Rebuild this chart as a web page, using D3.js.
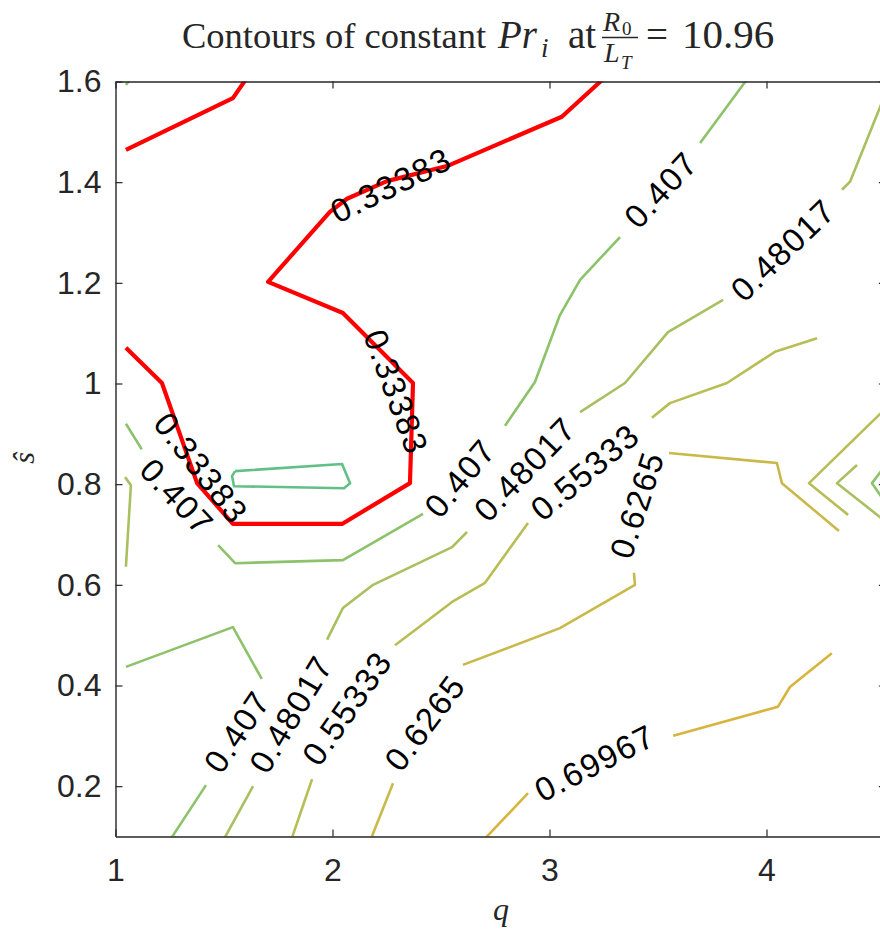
<!DOCTYPE html>
<html>
<head>
<meta charset="utf-8">
<script src="https://cdn.jsdelivr.net/npm/d3@7"></script>
<style>
  body { margin: 0; background: #fff; }
  svg { display: block; }
</style>
</head>
<body>
<svg id="chart" width="880" height="933"></svg>
<script>
// Contour levels of Pr_i and the colour each one is stroked with
const levels      = [0.26067, 0.33383, 0.407, 0.48017, 0.55333, 0.6265, 0.69967];
const levelColors = ["#62bf86", "#ff0000", "#8cc26a", "#a8c05f", "#b8bd55", "#c9b94a", "#d8b43e"];

// Contour pieces per level as [q, s-hat] vertices (broken where the inline labels sit)
const pr026 = [
  [[1.551,0.826],[2.044,0.840],[2.081,0.802],[2.053,0.792],[1.546,0.796],[1.537,0.816],[1.551,0.826]]
];
const pr033 = [
  [[1.048,1.464],[1.541,1.567],[1.610,1.610]],
  [[1.048,1.071],[1.214,1.001],[1.376,0.802],[1.541,0.721],[2.044,0.721],[2.357,0.802],
   [2.371,1.001],[2.048,1.140],[1.703,1.202],[1.988,1.341],[2.067,1.367],[2.251,1.402],
   [2.528,1.432],[3.057,1.530],[3.260,1.610]]
];
const pr041 = [
  [[1.048,1.593],[1.070,1.606]],
  [[1.048,0.920],[1.121,0.869]],
  [[1.473,0.679],[1.551,0.643],[2.048,0.649],[2.417,0.741]],
  [[2.795,0.916],[2.933,1.003],[3.048,1.136],[3.141,1.206],[3.325,1.291]],
  [[3.694,1.478],[3.920,1.610]],
  [[1.048,0.437],[1.541,0.516],[1.674,0.413]],
  [[1.417,0.202],[1.233,0.081]],
  [[4.560,0.844],[4.486,0.802],[4.560,0.756]]
];
const pr048 = [
  [[1.044,0.814],[1.071,0.798],[1.048,0.636]],
  [[1.482,0.081],[1.634,0.200]],
  [[1.975,0.491],[2.048,0.554],[2.187,0.600],[2.551,0.675],[2.620,0.705]],
  [[3.141,0.943],[3.348,1.001],[3.546,1.102],[3.800,1.166]],
  [[4.348,1.385],[4.385,1.401],[4.523,1.549],[4.560,1.590]],
  [[4.417,0.838],[4.325,0.802],[4.560,0.722]]
];
const pr055 = [
  [[1.800,0.081],[1.906,0.214]],
  [[2.288,0.480],[2.551,0.566],[2.703,0.604],[2.901,0.723]],
  [[3.472,0.932],[3.555,0.961],[3.818,1.001],[4.039,1.063],[4.233,1.090]],
  [[4.560,0.955],[4.196,0.802],[4.376,0.739]]
];
const pr063 = [
  [[2.164,0.081],[2.279,0.206]],
  [[2.601,0.441],[3.048,0.514],[3.394,0.600],[3.389,0.624]],
  [[3.551,0.862],[4.048,0.842],[4.071,0.802],[4.334,0.707]]
];
const pr070 = [
  [[2.670,0.081],[2.901,0.186]],
  [[3.570,0.300],[4.053,0.358],[4.108,0.397],[4.301,0.464]]
];
const contourPieces = [pr026, pr033, pr041, pr048, pr055, pr063, pr070];

// Inline labels: [level, q, s-hat, rotation in degrees]
const contourLabels = [
  [0.33383, 2.270, 1.394, -26],
  [0.33383, 2.293, 0.983,  70],
  [0.33383, 1.394, 0.832,  52],
  [0.407,   1.283, 0.775,  47],
  [0.407,   2.588, 0.812, -50],
  [0.48017, 2.887, 0.830, -46],
  [0.55333, 3.164, 0.824, -40],
  [0.6265,  3.403, 0.759, -72],
  [0.407,   3.514, 1.385, -47],
  [0.48017, 4.076, 1.265, -44],
  [0.407,   1.560, 0.308, -56],
  [0.48017, 1.809, 0.343, -59],
  [0.55333, 2.067, 0.355, -55],
  [0.6265,  2.426, 0.326, -53],
  [0.69967, 3.209, 0.246, -27]
];

// Axis ticks
const xTicks = [1, 2, 3, 4];
const xTickLabels = ["1", "2", "3", "4"];
const yTicks = [0.2, 0.4, 0.6, 0.8, 1.0, 1.2, 1.4, 1.6];
const yTickLabels = ["0.2", "0.4", "0.6", "0.8", "1", "1.2", "1.4", "1.6"];

const svg = d3.select("#chart");
const axisColor = "#262626";
const sansFont = "'Liberation Sans', Arial, Helvetica, sans-serif";
const serifFont = "'Liberation Serif', 'Times New Roman', serif";

const x = d3.scaleLinear().domain([1, 4.55]).range([115.5, 885.85]);
const y = d3.scaleLinear().domain([0.1, 1.6]).range([836.5, 81.5]);

svg.append("defs").append("clipPath").attr("id", "plotClip")
  .append("rect")
  .attr("x", x(1)).attr("y", y(1.6))
  .attr("width", x(4.55) - x(1)).attr("height", y(0.1) - y(1.6));

// Contour lines
const line = d3.line().x(d => x(d[0])).y(d => y(d[1]));
const plot = svg.append("g").attr("clip-path", "url(#plotClip)");
levels.forEach((lv, i) => {
  plot.append("g")
    .selectAll("path")
    .data(contourPieces[i])
    .join("path")
    .attr("d", line)
    .attr("fill", "none")
    .attr("stroke", levelColors[i])
    .attr("stroke-width", lv === 0.33383 ? 4.2 : 2.6)
    .attr("stroke-linejoin", "round");
});

// Inline contour labels
plot.append("g")
  .selectAll("text")
  .data(contourLabels)
  .join("text")
  .attr("transform", d => `translate(${x(d[1])},${y(d[2])}) rotate(${d[3]})`)
  .attr("text-anchor", "middle")
  .attr("dominant-baseline", "central")
  .attr("font-family", sansFont)
  .attr("font-size", 33)
  .attr("letter-spacing", 1.5)
  .attr("fill", "#000")
  .text(d => String(d[0]));

// Axes (box with inward ticks)
function styleAxis(g) {
  g.select(".domain").attr("stroke", axisColor).attr("stroke-width", 1.4);
  g.selectAll(".tick line").attr("stroke", axisColor).attr("stroke-width", 1.2);
  g.selectAll(".tick text")
    .attr("fill", axisColor)
    .attr("font-family", sansFont)
    .attr("font-size", 32);
}

svg.append("g")
  .attr("transform", `translate(0,${y(0.1)})`)
  .call(d3.axisBottom(x).tickValues(xTicks).tickSize(-7).tickSizeOuter(0).tickPadding(22)
    .tickFormat((d, i) => xTickLabels[i]))
  .call(styleAxis);

svg.append("g")
  .attr("transform", `translate(${x(1)},0)`)
  .call(d3.axisLeft(y).tickValues(yTicks).tickSize(-7).tickSizeOuter(0).tickPadding(14)
    .tickFormat((d, i) => yTickLabels[i]))
  .call(styleAxis);

svg.append("g")
  .attr("transform", `translate(0,${y(1.6)})`)
  .call(d3.axisTop(x).tickValues(xTicks).tickSize(-7).tickSizeOuter(0).tickFormat(""))
  .call(styleAxis);

svg.append("g")
  .attr("transform", `translate(${x(4.55)},0)`)
  .call(d3.axisRight(y).tickValues(yTicks).tickSize(-7).tickSizeOuter(0).tickFormat(""))
  .call(styleAxis);

// Axis titles
svg.append("text")
  .attr("x", 501).attr("y", 920)
  .attr("text-anchor", "middle")
  .attr("font-family", serifFont)
  .attr("font-style", "italic")
  .attr("font-size", 32)
  .attr("fill", axisColor)
  .text("q");

svg.append("text")
  .attr("transform", "translate(34,458) rotate(-90)")
  .attr("text-anchor", "middle")
  .attr("font-family", serifFont)
  .attr("font-style", "italic")
  .attr("font-size", 30)
  .attr("fill", axisColor)
  .text("\u015D");

// Title: Contours of constant Pr_i at R0/LT = 10.96
const title = svg.append("g").attr("fill", "#262626").attr("font-family", serifFont);
title.append("text").attr("x", 182).attr("y", 48).attr("font-size", 36.5)
  .text("Contours of constant");
title.append("text").attr("x", 498).attr("y", 48).attr("font-size", 39)
  .attr("font-style", "italic").text("Pr");
title.append("text").attr("x", 541).attr("y", 57).attr("font-size", 27)
  .attr("font-style", "italic").text("i");
title.append("text").attr("x", 568).attr("y", 48).attr("font-size", 39).text("at");
title.append("text").attr("x", 603).attr("y", 31).attr("font-size", 28)
  .attr("font-style", "italic").text("R");
title.append("text").attr("x", 622).attr("y", 35).attr("font-size", 19).text("0");
title.append("line").attr("x1", 602).attr("x2", 638).attr("y1", 37.5).attr("y2", 37.5)
  .attr("stroke", "#262626").attr("stroke-width", 1.6);
title.append("text").attr("x", 604).attr("y", 62).attr("font-size", 28)
  .attr("font-style", "italic").text("L");
title.append("text").attr("x", 621).attr("y", 69).attr("font-size", 19)
  .attr("font-style", "italic").text("T");
title.append("text").attr("x", 646).attr("y", 48).attr("font-size", 39).text("=");
title.append("text").attr("x", 682).attr("y", 48).attr("font-size", 41).text("10.96");
</script>
</body>
</html>
